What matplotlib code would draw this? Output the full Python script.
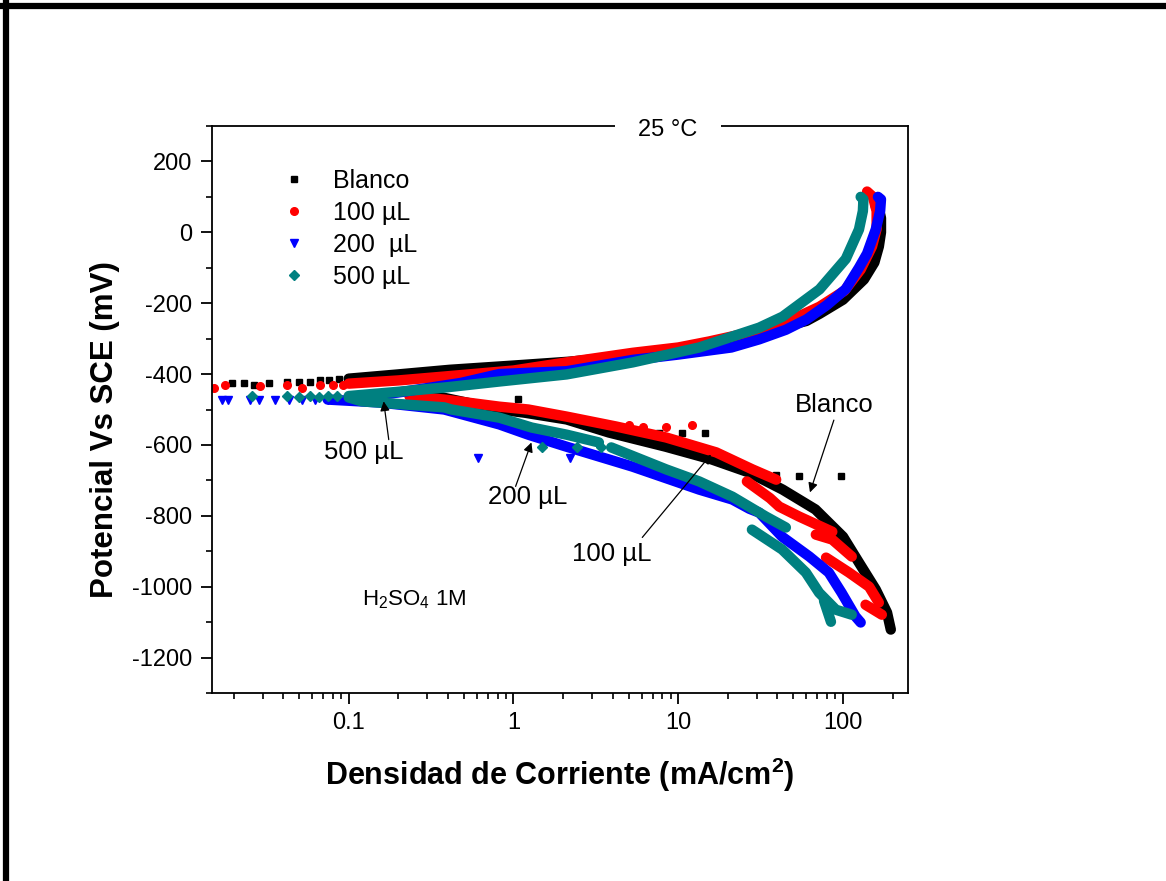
import matplotlib
matplotlib.use("Agg")
import matplotlib.pyplot as plt
from matplotlib.lines import Line2D
import numpy as np

plt.rcParams['font.family'] = ['Liberation Sans', 'DejaVu Sans']
plt.rcParams['mathtext.fontset'] = 'custom'
plt.rcParams['mathtext.rm'] = 'Liberation Sans'
plt.rcParams['mathtext.it'] = 'Liberation Sans:italic'
plt.rcParams['mathtext.bf'] = 'Liberation Sans:bold'
plt.rcParams['axes.unicode_minus'] = False

# ---------------- data (current density mA/cm2, potential mV) ----------------
labels = ["Blanco", "100 µL", "200  µL", "500 µL"]
colors = ["#000000", "#ff0000", "#0000ff", "#008080"]
markers = ["s", "o", "v", "D"]

# Blanco
blanco_sparse_i = [0.0195, 0.0231, 0.0266, 0.0328, 0.0421, 0.0498, 0.058, 0.0667, 0.0757, 0.0869]
blanco_sparse_E = [-424, -424, -430, -424, -421, -421, -421, -418, -418, -415]
blanco_anod_i = [0.1, 0.2, 0.41, 1, 2.2, 5, 10, 18, 31, 45, 60, 72, 100, 134, 155, 165, 170, 170, 166, 158]
blanco_anod_E = [-413, -401, -388, -376, -365, -349, -332, -308, -282, -265, -250, -230, -190, -133, -85, -40, 0, 40, 62, 73]
blanco_cat_i = [0.25, 0.37, 0.82, 1.17, 2.1, 3.8, 8.4, 16, 27, 43, 68, 100, 125, 158, 185, 195]
blanco_cat_E = [-458, -466, -500, -509, -528, -565, -605, -641, -678, -726, -782, -859, -932, -1008, -1073, -1121]
blanco_out_i = [1.07, 7.6, 10.6, 14.6, 39, 54, 97]
blanco_out_E = [-469, -565, -565, -565, -684, -689, -689]

# 100 uL
r100_sparse_i = [0.0153, 0.0177, 0.0289, 0.0421, 0.052, 0.0667, 0.080, 0.092]
r100_sparse_E = [-438, -432, -435, -432, -438, -432, -430, -430]
r100_anod_i = [0.1, 0.2, 0.38, 1, 2.1, 5.3, 10, 15.4, 27, 47, 72, 102, 128, 150, 160, 160, 152, 140]
r100_anod_E = [-427, -418, -407, -390, -367, -340, -325, -308, -283, -250, -210, -165, -105, -40, 10, 60, 100, 115]
r100_cat1_i = [0.234, 0.38, 0.82, 1.23, 2.1, 4.2, 8.45, 17.0, 28.2, 39.3]
r100_cat1_E = [-463, -472, -492, -500, -520, -548, -579, -621, -669, -698]
r100_cat2_i = [26.1, 36.0, 41.0, 54.1, 86.1]
r100_cat2_E = [-703, -750, -774, -802, -845]
r100_cat3_i = [68.4, 86.0, 113]
r100_cat3_E = [-853, -867, -915]
r100_cat4_i = [78.9, 108.7, 144, 165]
r100_cat4_E = [-918, -960, -1000, -1045]
r100_cat5_i = [137, 172]
r100_cat5_E = [-1051, -1079]
r100_out_i = [5.05, 6.1, 8.4, 12.2]
r100_out_E = [-545, -548, -548, -545]

# 200 uL
b200_sparse_i = [0.017, 0.0184, 0.0251, 0.0284, 0.0356, 0.0433, 0.052, 0.062, 0.0746]
b200_sparse_E = [-472, -472, -472, -472, -472, -472, -472, -472, -472]
b200_anod_i = [0.1, 0.2, 0.48, 0.82, 2.1, 5.3, 10, 21, 31, 45, 60, 80, 104, 125, 140, 158, 168, 170, 163]
b200_anod_E = [-468, -452, -425, -400, -392, -360, -345, -325, -302, -275, -246, -205, -160, -100, -60, 8, 60, 93, 100]
b200_cat_i = [0.0746, 0.152, 0.38, 0.82, 1.23, 2.1, 5.26, 13.4, 21.3, 27, 31, 42.7, 62.5, 82, 98, 119, 128]
b200_cat_E = [-472, -480, -500, -542, -571, -605, -661, -726, -754, -780, -791, -859, -915, -960, -1017, -1084, -1101]
b200_out_i = [0.61, 2.19]
b200_out_E = [-638, -638]

# 500 uL
t500_sparse_i = [0.026, 0.042, 0.050, 0.058, 0.066, 0.075, 0.085]
t500_sparse_E = [-463, -463, -466, -463, -466, -463, -463]
t500_anod_i = [0.1, 0.2, 0.4, 0.82, 2.1, 5.3, 13.4, 31, 43, 72, 104, 125, 132, 133, 128]
t500_anod_E = [-462, -450, -437, -421, -401, -367, -325, -269, -238, -161, -75, 8, 60, 93, 100]
t500_cat1_i = [0.1, 0.12, 0.38, 0.42, 0.82, 1.29, 2.1, 3.3]
t500_cat1_E = [-466, -477, -494, -500, -523, -551, -571, -593]
t500_cat2_i = [3.92, 8.45, 13.4, 21.3, 34, 45]
t500_cat2_E = [-607, -669, -703, -746, -802, -833]
t500_cat3_i = [28, 42.7, 59.5, 71.6, 90.5, 113]
t500_cat3_E = [-839, -895, -960, -1017, -1065, -1079]
t500_cat4_i = [76.7, 84.5]
t500_cat4_E = [-1040, -1099]
t500_out_i = [1.5, 2.44, 3.4]
t500_out_E = [-607, -605, -607]

# ---------------- figure ----------------
fig = plt.figure(figsize=(11.66, 8.81), dpi=100)
ax = fig.add_axes([212 / 1166, 1 - 693 / 881, 696 / 1166, 567 / 881])

series = [
    dict(sparse=(blanco_sparse_i, blanco_sparse_E),
         dense=[(blanco_anod_i, blanco_anod_E), (blanco_cat_i, blanco_cat_E)],
         out=(blanco_out_i, blanco_out_E)),
    dict(sparse=(r100_sparse_i, r100_sparse_E),
         dense=[(r100_anod_i, r100_anod_E), (r100_cat1_i, r100_cat1_E), (r100_cat2_i, r100_cat2_E),
                (r100_cat3_i, r100_cat3_E), (r100_cat4_i, r100_cat4_E), (r100_cat5_i, r100_cat5_E)],
         out=(r100_out_i, r100_out_E)),
    dict(sparse=(b200_sparse_i, b200_sparse_E),
         dense=[(b200_anod_i, b200_anod_E), (b200_cat_i, b200_cat_E)],
         out=(b200_out_i, b200_out_E)),
    dict(sparse=(t500_sparse_i, t500_sparse_E),
         dense=[(t500_anod_i, t500_anod_E), (t500_cat1_i, t500_cat1_E), (t500_cat2_i, t500_cat2_E),
                (t500_cat3_i, t500_cat3_E), (t500_cat4_i, t500_cat4_E)],
         out=(t500_out_i, t500_out_E)),
]

msizes = [5, 5.5, 6, 5.5]
for s, lab, c, m, ms in zip(series, labels, colors, markers, msizes):
    for xi, yi in s["dense"]:
        ax.plot(xi, yi, color=c, lw=7.5, solid_capstyle='round', solid_joinstyle='round', zorder=2)
    ax.plot(*s["sparse"], ls='none', marker=m, color=c, ms=ms, mec=c, zorder=2)
    ax.plot(*s["out"], ls='none', marker=m, color=c, ms=ms, mec=c, zorder=2)
    ax.plot([], [], ls='none', marker=m, color=c, ms=ms, label=lab)

ax.set_xscale('log')
ax.set_xlim(0.0148, 248)
ax.set_ylim(-1300, 300)
ax.set_yticks(np.arange(-1200, 201, 200))
ax.set_yticks(np.arange(-1300, 301, 100), minor=True)
ax.xaxis.set_major_formatter(matplotlib.ticker.FuncFormatter(lambda v, p: f"{v:g}"))
ax.xaxis.set_minor_formatter(matplotlib.ticker.NullFormatter())
ax.tick_params(which='major', direction='out', length=8, width=1.3, labelsize=17, pad=6)
ax.tick_params(which='minor', direction='out', length=4, width=1.2)
ax.tick_params(top=False, right=False, which='both')
for sp in ax.spines.values():
    sp.set_linewidth(1.3)

ax.set_xlabel('Densidad de Corriente (mA/cm$^{\\mathbf{2}}$)', fontsize=22, fontweight='bold', labelpad=15)
ax.set_ylabel('Potencial Vs SCE (mV)', fontsize=22.5, fontweight='bold')
ax.yaxis.set_label_coords(-0.132, 0.465)

ax.text((668 - 212) / 696, 1 - 4 / 567, '25 °C', transform=ax.transAxes, ha='center', va='center',
        fontsize=17, bbox=dict(facecolor='white', edgecolor='none', pad=17), zorder=5)

leg = ax.legend(loc='upper left', bbox_to_anchor=(0.102, 0.925), frameon=False, fontsize=18,
                handlelength=0.9, handletextpad=1.1, labelspacing=0.32, borderpad=0, borderaxespad=0)

arrow = dict(arrowstyle='-|>', color='black', lw=0.9, mutation_scale=14, shrinkA=0, shrinkB=0)
ax.annotate('', xy=(63, -734), xytext=(88, -530), arrowprops=arrow)
ax.text(88.2, -486, 'Blanco', ha='center', va='center', fontsize=18.5)
ax.annotate('', xy=(15.8, -627), xytext=(6.05, -861), arrowprops=arrow)
ax.text(3.93, -909, '100 µL', ha='center', va='center', fontsize=18.5)
ax.annotate('', xy=(1.285, -593), xytext=(1.03, -717), arrowprops=arrow)
ax.text(1.22, -746, '200 µL', ha='center', va='center', fontsize=18.5)
ax.annotate('', xy=(0.163, -477), xytext=(0.175, -585), arrowprops=arrow)
ax.text(0.123, -619, '500 µL', ha='center', va='center', fontsize=18.5)
ax.text(0.251, -1036, 'H$_2$SO$_4$ 1M', ha='center', va='center', fontsize=16)

# outer frame lines (top and left)
fig.add_artist(Line2D([3 / 1166, 1], [1 - 6 / 881, 1 - 6 / 881], transform=fig.transFigure, color='black', lw=4.5))
fig.add_artist(Line2D([5.5 / 1166, 5.5 / 1166], [0, 1 - 3 / 881], transform=fig.transFigure, color='black', lw=4.5))

fig.savefig('out.png', dpi=100)
